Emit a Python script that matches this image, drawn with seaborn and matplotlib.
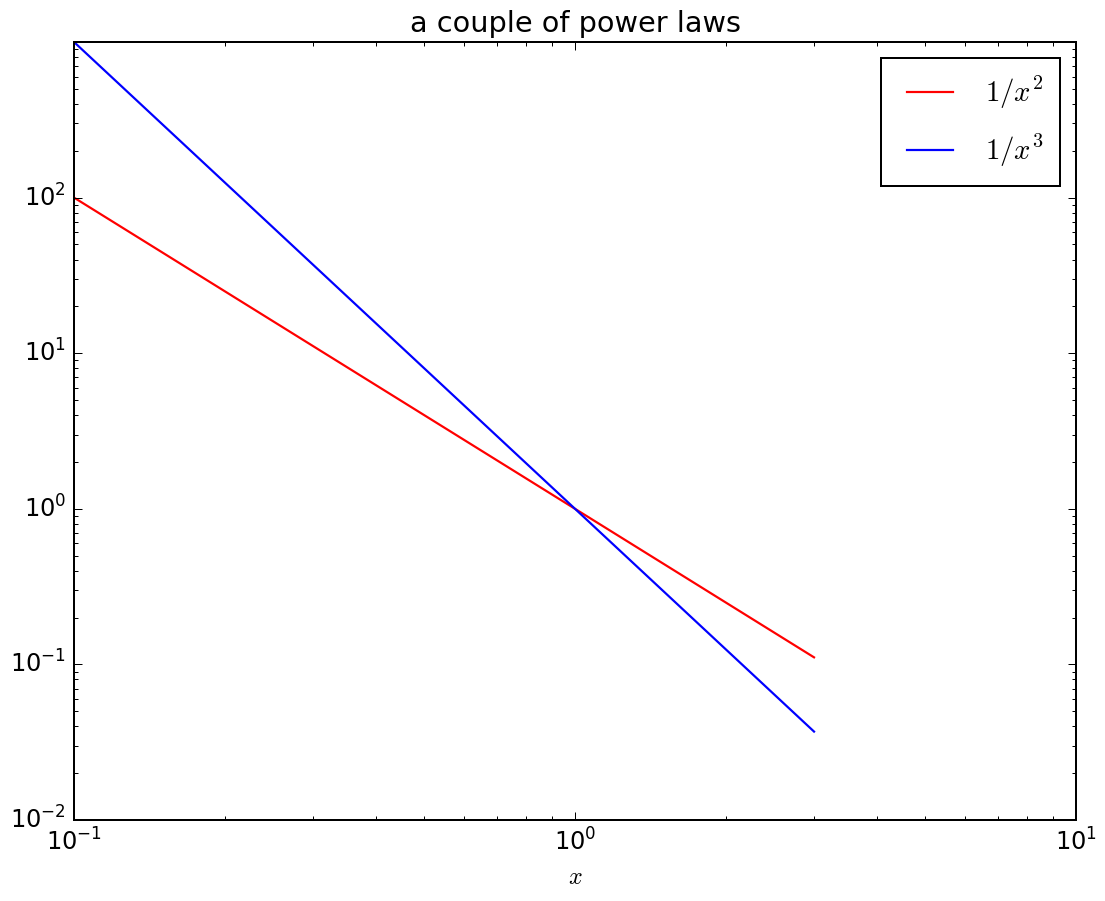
import matplotlib
matplotlib.use("Agg")
import matplotlib.pyplot as plt
import seaborn as sns
import pandas as pd

# data
x_vals = [0.1, 1.0, 3.0]
inv_sq = [100.0, 1.0, 0.111]
inv_cube = [1000.0, 1.0, 0.037]
labels = [r"$1/x^2$", r"$1/x^3$"]
colors = ["red", "blue"]

plt.style.use("classic")
plt.rcParams["figure.facecolor"] = "white"
plt.rcParams["savefig.facecolor"] = "white"

df = pd.DataFrame({"x": x_vals * 2,
                   "y": inv_sq + inv_cube,
                   "series": [labels[0]] * 3 + [labels[1]] * 3})

fig = plt.figure(figsize=(1105 / 144, 901 / 144), dpi=144)
ax = fig.add_axes([74 / 1105, 1 - 820 / 901, (1076 - 74) / 1105, (820 - 42) / 901])

for lab, col in zip(labels, colors):
    sub = df[df["series"] == lab]
    sns.lineplot(data=sub, x="x", y="y", color=col, label=lab, ax=ax, linewidth=1.1)

ax.set_xscale("log")
ax.set_yscale("log")
ax.set_xlim(0.1, 10)
ax.set_ylim(0.01, 999.99)
ax.set_xlabel("$x$")
ax.set_ylabel("")
ax.set_title("a couple of power laws")
ax.legend(loc="upper right", borderpad=0.6, labelspacing=0.75,
          handlelength=2.2, borderaxespad=0.55)

fig.savefig("out.png", dpi=144)
